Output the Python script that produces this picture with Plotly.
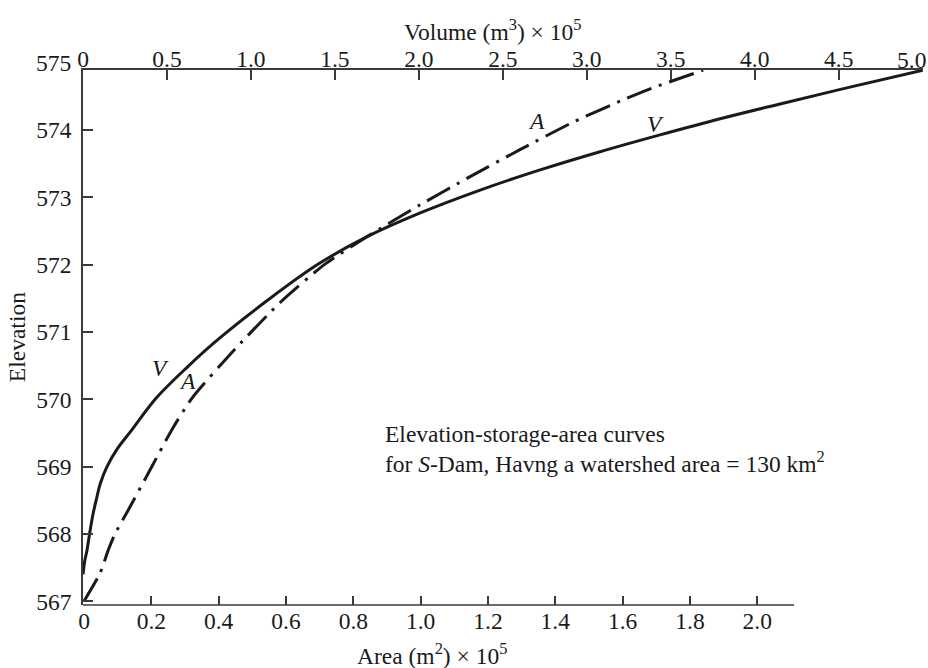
import plotly.graph_objects as go

# Elevation-storage (V) and elevation-area (A) curves
elev_v = [567.40, 567.61, 567.76, 568.00, 568.30, 568.55, 568.75, 569.00, 569.25,
          569.55, 570.02, 570.48, 570.88, 571.48, 572.01, 572.41, 572.77, 573.11,
          573.41, 573.68, 573.93, 574.17, 574.39, 574.64, 574.89]
volume = [0.000, 0.011, 0.024, 0.039, 0.060, 0.083, 0.103, 0.143, 0.200,
          0.292, 0.436, 0.621, 0.799, 1.103, 1.401, 1.686, 2.008, 2.365,
          2.722, 3.079, 3.436, 3.794, 4.151, 4.567, 5.000]

elev_a = [567.00, 567.42, 567.76, 568.00, 568.36, 568.95, 569.55, 570.02, 570.75,
          571.48, 572.01, 572.41, 572.89, 573.31, 573.71, 574.12, 574.45, 574.63,
          574.89]
area = [0.000, 0.048, 0.072, 0.092, 0.132, 0.196, 0.261, 0.321, 0.449,
        0.591, 0.716, 0.838, 0.998, 1.147, 1.295, 1.453, 1.601, 1.690,
        1.839]

area_ticks = [0, 0.2, 0.4, 0.6, 0.8, 1.0, 1.2, 1.4, 1.6, 1.8, 2.0]
area_labels = ["0", "0.2", "0.4", "0.6", "0.8", "1.0", "1.2", "1.4", "1.6", "1.8", "2.0"]
vol_ticks = [0, 0.5, 1.0, 1.5, 2.0, 2.5, 3.0, 3.5, 4.0, 4.5, 5.0]
vol_labels = ["0", "0.5", "1.0", "1.5", "2.0", "2.5", "3.0", "3.5", "4.0", "4.5", "5.0"]
elev_ticks = [567, 568, 569, 570, 571, 572, 573, 574]
elev_top = 575

FONT = "Liberation Serif"
FS = 23.5
INK = "#1a1a1a"
AXIS = "#3a3a3a"

fig = go.Figure()

fig.add_trace(go.Scatter(
    x=volume, y=elev_v, xaxis="x2", yaxis="y", mode="lines",
    line=dict(color=INK, width=3, shape="spline", smoothing=1.0),
    showlegend=False, hoverinfo="skip"))

fig.add_trace(go.Scatter(
    x=area, y=elev_a, xaxis="x", yaxis="y", mode="lines",
    line=dict(color=INK, width=3, shape="spline", smoothing=0.6,
              dash="26px,8px,3px,8px"),
    showlegend=False, hoverinfo="skip"))

tick_font = dict(family=FONT, size=FS, color=INK)
text_font = dict(family=FONT, size=FS, color=INK)

# the last volume label sits flush with the right edge, drawn separately below
vol_text = vol_labels[:-1] + [""]

fig.update_layout(
    width=928, height=668,
    margin=dict(l=83, r=5, t=70, b=63),
    paper_bgcolor="white", plot_bgcolor="white",
    font=text_font,
    xaxis=dict(
        range=[-0.00297, 2.4922], showgrid=False, zeroline=False, showline=False,
        tickmode="array", tickvals=area_ticks, ticktext=area_labels,
        ticks="inside", ticklen=9, tickwidth=1.5, tickcolor=AXIS,
        tickfont=tick_font, ticklabelstandoff=-1),
    xaxis2=dict(
        range=[0, 5.002], overlaying="x", side="top", showgrid=False, zeroline=False,
        showline=True, linecolor=AXIS, linewidth=1.5,
        tickmode="array", tickvals=vol_ticks, ticktext=vol_text,
        ticks="inside", ticklen=10, tickwidth=1.5, tickcolor=AXIS,
        tickfont=tick_font, ticklabelstandoff=-8),
    yaxis=dict(
        range=[566.945, 574.894], showgrid=False, zeroline=False,
        showline=True, linecolor=AXIS, linewidth=1.5,
        tickmode="array", tickvals=elev_ticks,
        ticks="inside", ticklen=10, tickwidth=1.5, tickcolor=AXIS,
        tickfont=tick_font, ticklabelstandoff=5),
)

# bottom axis line stops just past the last area tick
fig.add_shape(type="line", xref="x", yref="paper", x0=-0.00297, x1=2.109, y0=0, y1=0,
              line=dict(color=AXIS, width=1.5))

ann = []
# corner labels
ann.append(dict(text=str(elev_top), xref="paper", yref="paper", x=-0.0119, y=1.0131,
                xanchor="right", yanchor="middle", showarrow=False, font=tick_font))
ann.append(dict(text=vol_labels[-1], xref="paper", yref="paper", x=1.0061, y=1.0196,
                xanchor="right", yanchor="middle", showarrow=False, font=tick_font))
# axis titles
ann.append(dict(text="Volume (m<sup>3</sup>) × 10<sup>5</sup>", xref="paper", yref="paper",
                x=0.488, y=1.0748, xanchor="center", yanchor="middle", showarrow=False,
                font=text_font))
ann.append(dict(text="Area (m<sup>2</sup>) × 10<sup>5</sup>", xref="paper", yref="paper",
                x=0.4155, y=-0.0915, xanchor="center", yanchor="middle", showarrow=False,
                font=text_font))
ann.append(dict(text="Elevation", xref="paper", yref="paper", x=-0.079, y=0.50,
                xanchor="center", yanchor="middle", textangle=-90, showarrow=False,
                font=text_font))
# curve labels
ann.append(dict(text="<i>V</i>", xref="x2", yref="y", x=0.46, y=570.47,
                showarrow=False, font=text_font))
ann.append(dict(text="<i>A</i>", xref="x", yref="y", x=0.306, y=570.28,
                showarrow=False, font=text_font))
ann.append(dict(text="<i>A</i>", xref="x", yref="y", x=1.345, y=574.14,
                showarrow=False, font=text_font))
ann.append(dict(text="<i>V</i>", xref="x2", yref="y", x=3.41, y=574.09,
                showarrow=False, font=text_font))
# caption inside the plot
ann.append(dict(text="Elevation-storage-area curves", xref="paper", yref="paper",
                x=(383 - 83) / 840, y=(605 - 434) / 535, xanchor="left", yanchor="middle",
                showarrow=False, font=text_font))
ann.append(dict(text="for <i>S</i>-Dam, Havng a watershed area = 130 km<sup>2</sup>",
                xref="paper", yref="paper",
                x=(383 - 83) / 840, y=(605 - 462) / 535, xanchor="left", yanchor="middle",
                showarrow=False, font=text_font))
fig.update_layout(annotations=ann)

fig.write_html("out.html")
